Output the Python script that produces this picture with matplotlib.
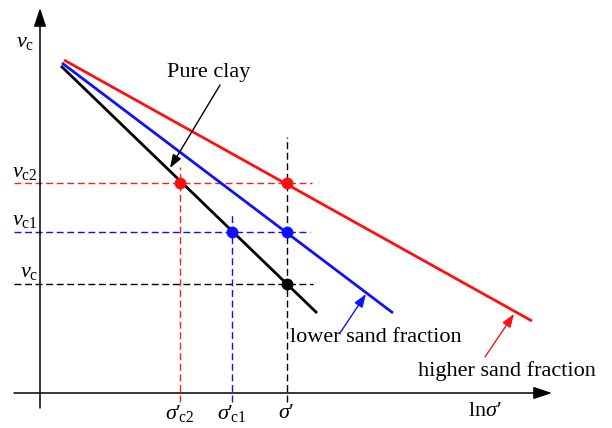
import matplotlib
matplotlib.use("Agg")
import matplotlib.pyplot as plt

plt.rcParams['font.family'] = ['Liberation Serif', 'DejaVu Serif']
plt.rcParams['mathtext.fontset'] = 'custom'
plt.rcParams['mathtext.rm'] = 'Liberation Serif'
plt.rcParams['mathtext.it'] = 'Liberation Serif:italic'
plt.rcParams['mathtext.bf'] = 'Liberation Serif:bold'

# ---- schematic data (x = ln sigma', y = v_c) ----
clay_x = [0.42, 5.54]
clay_v = [6.54, 1.60]
low_x = [0.44, 7.06]
low_v = [6.60, 1.60]
high_x = [0.48, 9.84]
high_v = [6.66, 1.44]

sigma_vals = [2.80, 3.84, 4.93]          # sigma'_c2, sigma'_c1, sigma'
sigma_labels = [r"$\sigma′\!{}_{\mathrm{c2}}$", r"$\sigma′\!{}_{\mathrm{c1}}$", r"$\sigma′$"]
v_vals = [4.20, 3.22, 2.18]              # v_c2, v_c1, v_c
v_labels = [r"$v_{\mathrm{c2}}$", r"$v_{\mathrm{c1}}$", r"$v_{\mathrm{c}}$"]
level_colors = ['#ff2020', '#1010ff', '#000000']
line_colors = ['#000000', '#1010ff', '#ff1010']
v_top = [4.52, 3.62, 5.12]               # top of vertical dashed guides (c2, c1, sigma')
h_end = [5.44, 5.40, 5.46]               # right end of horizontal guides

fig = plt.figure(figsize=(6.12, 4.28), dpi=100)
ax = fig.add_axes([0, 0, 1, 1])
ax.set_xlim(-0.8, 11.44)
ax.set_ylim(-0.7, 7.86)
ax.axis('off')

# axes with arrows
ax.annotate('', xy=(0, 7.7), xytext=(0, -0.3),
            arrowprops=dict(arrowstyle='-|>,head_length=0.45,head_width=0.15',
                            mutation_scale=25, color='black', lw=1.1, shrinkA=0, shrinkB=0))
ax.annotate('', xy=(10.24, 0), xytext=(-0.52, 0),
            arrowprops=dict(arrowstyle='-|>,head_length=0.45,head_width=0.15',
                            mutation_scale=25, color='black', lw=1.1, shrinkA=0, shrinkB=0))

dash = (5, 2.6)
# horizontal guides for v levels
for v, c, xe in zip(v_vals, level_colors, h_end):
    ax.plot([-0.52, xe], [v, v], color=c, lw=1.0, dashes=dash)
# vertical guides for sigma levels
for s, c, top in zip(sigma_vals, level_colors, v_top):
    ax.plot([s, s], [-0.18, top], color=c, lw=1.0, dashes=dash)

# main lines
ax.plot(high_x, high_v, color=line_colors[2], lw=2.0, solid_capstyle='butt')
ax.plot(low_x, low_v, color=line_colors[1], lw=2.0, solid_capstyle='butt')
ax.plot(clay_x, clay_v, color=line_colors[0], lw=2.0, solid_capstyle='butt')

# intersection points
ax.plot([sigma_vals[0], sigma_vals[2]], [v_vals[0], v_vals[0]], 'o', color='#ff1010', ms=7.5)
ax.plot([sigma_vals[1], sigma_vals[2]], [v_vals[1], v_vals[1]], 'o', color='#1010ff', ms=7.5)
ax.plot([sigma_vals[2]], [v_vals[2]], 'o', color='black', ms=7.5)

# labels on axes
fs = 16
ax.text(-0.12, 7.02, r"$v_{\mathrm{c}}$", ha='right', va='center', fontsize=fs)
for v, lab in zip(v_vals, v_labels):
    ax.text(-0.04, v + 0.22, lab, ha='right', va='center', fontsize=fs)
for s, lab in zip(sigma_vals, sigma_labels):
    ax.text(s, -0.40, lab, ha='center', va='center', fontsize=fs)
ax.text(8.9, -0.38, r"$\mathrm{ln}\sigma′$", ha='center', va='center', fontsize=fs)

# annotations
ax.text(3.38, 6.42, 'Pure clay', ha='center', va='center', fontsize=fs)
ax.annotate('', xy=(2.6, 4.5), xytext=(3.6, 6.16),
            arrowprops=dict(arrowstyle='-|>,head_length=0.5,head_width=0.18',
                            mutation_scale=16, color='black', lw=1.0, shrinkA=0, shrinkB=0))
ax.text(5.0, 1.12, 'lower sand fraction', ha='left', va='center', fontsize=fs)
ax.annotate('', xy=(6.52, 1.98), xytext=(6.0, 1.2),
            arrowprops=dict(arrowstyle='-|>,head_length=0.5,head_width=0.18',
                            mutation_scale=16, color='#1010ff', lw=1.0, shrinkA=0, shrinkB=0))
ax.text(7.56, 0.44, 'higher sand fraction', ha='left', va='center', fontsize=fs)
ax.annotate('', xy=(9.48, 1.58), xytext=(8.9, 0.72),
            arrowprops=dict(arrowstyle='-|>,head_length=0.5,head_width=0.18',
                            mutation_scale=16, color='#ff1010', lw=1.0, shrinkA=0, shrinkB=0))

fig.savefig('out.png', dpi=100)
